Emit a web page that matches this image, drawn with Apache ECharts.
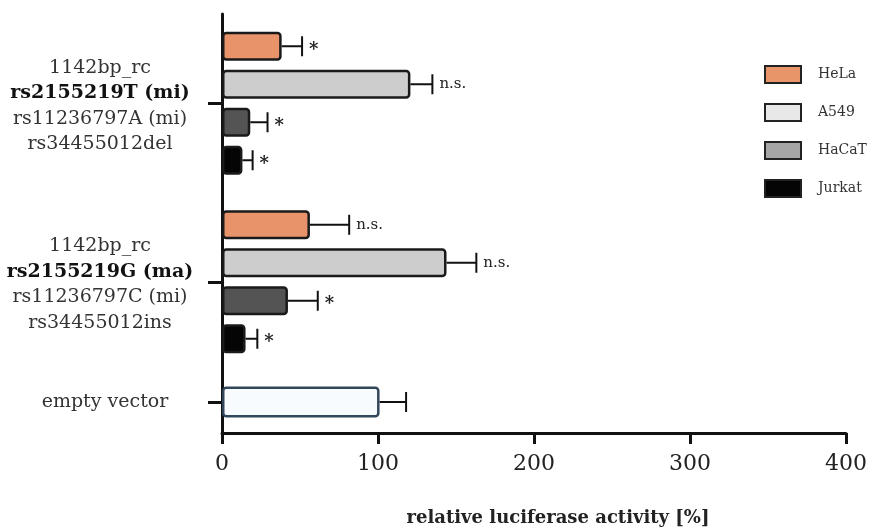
<!DOCTYPE html>
<html>
<head>
<meta charset="utf-8">
<style>
  html, body { margin: 0; padding: 0; background: #fff; }
  #chart { width: 870px; height: 531px; }
</style>
<script src="https://cdn.jsdelivr.net/npm/echarts@6/dist/echarts.min.js"></script>
</head>
<body>
<div id="chart"></div>
<script>
// Construct groups (each label is a stack of lines; line 2 is the highlighted SNP)
const groupLabels = [
  ['1142bp_rc', 'rs2155219T (mi)', 'rs11236797A (mi)', 'rs34455012del'],
  ['1142bp_rc', 'rs2155219G (ma)', 'rs11236797C (mi)', 'rs34455012ins']
];
const controlLabel = 'empty vector';

// Cell lines
const cellLines = ['HeLa', 'A549', 'HaCaT', 'Jurkat'];

// Relative luciferase activity [%] per cell line, one value per construct group
const helaValues   = [38, 56];
const a549Values   = [120, 143];
const hacatValues  = [18, 42];
const jurkatValues = [13, 15];

// Upper error (SD) per cell line
const helaErrors   = [13, 25];
const a549Errors   = [14, 19];
const hacatErrors  = [11, 19];
const jurkatErrors = [6.5, 7.5];

// Significance marks
const helaSig   = ['*', 'n.s.'];
const a549Sig   = ['n.s.', 'n.s.'];
const hacatSig  = ['*', '*'];
const jurkatSig = ['*', '*'];

// Empty vector control
const controlValue = [101];
const controlError = [17];

// Axis ticks
const xTicks = [0, 100, 200, 300, 400];

const values = [helaValues, a549Values, hacatValues, jurkatValues];
const errors = [helaErrors, a549Errors, hacatErrors, jurkatErrors];
const sigs   = [helaSig, a549Sig, hacatSig, jurkatSig];

const FONT = '"DejaVu Serif", serif';
const BAR_W = 29;
const BAR_GAP = 9;
const AXIS_COLOR = '#111';
const barColors    = ['#E8936A', '#CDCDCD', '#545454', '#050505'];
const legendColors = ['#E8956A', '#E8E8E8', '#A6A6A6', '#050505'];

const chart = echarts.init(document.getElementById('chart'), null, { renderer: 'canvas' });

const categories = groupLabels.map(lines => lines.join('\n'));

function groupFormatter(value) {
  return value.split('\n').map((s, i) => (i === 1 ? '{b|' + s + '}' : '{n|' + s + '}')).join('\n');
}

// error-bar items for the grouped grid: [mean, groupIndex, err, cellLineIndex]
const errData = [];
const errSig = [];
values.forEach((arr, k) => {
  arr.forEach((v, c) => {
    errData.push([v, c, errors[k][c], k]);
    errSig.push(sigs[k][c]);
  });
});

function makeErrorRenderer(sigList, nBars, pitch) {
  return function (params, api) {
    const mean = api.value(0), cat = api.value(1), err = api.value(2), k = api.value(3);
    const shift = (k - (nBars - 1) / 2) * pitch;
    const a = api.coord([mean, cat]);
    const b = api.coord([mean + err, cat]);
    const y = a[1] + shift;
    const children = [
      { type: 'line', shape: { x1: a[0], y1: y, x2: b[0], y2: y },
        style: { stroke: AXIS_COLOR, lineWidth: 2 } },
      { type: 'line', shape: { x1: b[0], y1: y - 10, x2: b[0], y2: y + 10 },
        style: { stroke: AXIS_COLOR, lineWidth: 2 } }
    ];
    const sig = sigList ? sigList[params.dataIndex] : '';
    if (sig) {
      const star = sig === '*';
      children.push({
        type: 'text', x: b[0] + 7, y: y + (star ? 4 : 0),
        style: {
          text: sig, fontFamily: FONT, fontSize: star ? 18 : 15,
          fontWeight: star ? 'bold' : 'normal',
          fill: '#222', align: 'left', verticalAlign: 'middle'
        }
      });
    }
    return { type: 'group', children };
  };
}

const barSeries = cellLines.map((name, k) => ({
  type: 'bar',
  name,
  xAxisIndex: 0,
  yAxisIndex: 0,
  data: values[k],
  barWidth: BAR_W,
  barGap: (BAR_GAP / BAR_W * 100).toFixed(1) + '%',
  itemStyle: { color: barColors[k], borderColor: '#1a1a1a', borderWidth: 2.5, borderRadius: 3 },
  emphasis: { disabled: true },
  z: 2
}));

const option = {
  backgroundColor: '#fff',
  animation: false,
  grid: [
    { left: 222, right: 20, top: 14, height: 357 },
    { left: 222, right: 20, top: 371, height: 62 }
  ],
  legend: {
    orient: 'vertical',
    left: 759,
    top: 60,
    itemWidth: 36,
    itemHeight: 17,
    itemGap: 19,
    icon: 'rect',
    selectedMode: false,
    data: cellLines.map((n, k) => ({
      name: n,
      itemStyle: { color: legendColors[k], borderColor: '#222', borderWidth: 2 }
    })),
    textStyle: { fontFamily: FONT, fontSize: 14, color: '#333', padding: [0, 0, 0, 12] }
  },
  xAxis: [
    { gridIndex: 0, type: 'value', min: xTicks[0], max: xTicks[xTicks.length - 1], show: false },
    {
      gridIndex: 1, type: 'value',
      min: xTicks[0], max: xTicks[xTicks.length - 1], interval: xTicks[1] - xTicks[0],
      axisLine: { show: true, lineStyle: { color: AXIS_COLOR, width: 3 } },
      axisTick: { show: true, length: 11, lineStyle: { color: AXIS_COLOR, width: 3 } },
      axisLabel: { fontFamily: FONT, fontSize: 22, color: '#222', margin: 20 },
      splitLine: { show: false },
      name: 'relative luciferase activity [%]',
      nameLocation: 'middle',
      nameGap: 76,
      nameTextStyle: { fontFamily: FONT, fontWeight: 'bold', fontSize: 18, color: '#222', padding: [0, 0, 0, 48] }
    }
  ],
  yAxis: [
    {
      gridIndex: 0, type: 'category', data: categories, inverse: true,
      axisLine: { show: true, lineStyle: { color: AXIS_COLOR, width: 3 } },
      axisTick: { show: true, alignWithLabel: true, length: 14, lineStyle: { color: AXIS_COLOR, width: 3 } },
      axisLabel: {
        margin: 122, align: 'center', formatter: groupFormatter, padding: [6, 0, 0, 0],
        rich: {
          n: { fontFamily: FONT, fontSize: 19, color: '#333', lineHeight: 25.5, align: 'center' },
          b: { fontFamily: FONT, fontSize: 19, fontWeight: 'bold', color: '#111', lineHeight: 25.5, align: 'center' }
        }
      },
      splitLine: { show: false }
    },
    {
      gridIndex: 1, type: 'category', data: [controlLabel], inverse: true,
      axisLine: { show: true, lineStyle: { color: AXIS_COLOR, width: 3 } },
      axisTick: { show: true, alignWithLabel: true, length: 14, lineStyle: { color: AXIS_COLOR, width: 3 } },
      axisLabel: { margin: 117, align: 'center', fontFamily: FONT, fontSize: 19, color: '#333' },
      splitLine: { show: false }
    }
  ],
  series: [
    ...barSeries,
    {
      type: 'bar',
      name: controlLabel,
      xAxisIndex: 1,
      yAxisIndex: 1,
      data: controlValue,
      barWidth: 31,
      itemStyle: { color: '#F8FBFE', borderColor: '#33475B', borderWidth: 2.5, borderRadius: 3 },
      emphasis: { disabled: true },
      z: 2
    },
    {
      type: 'custom',
      name: 'error',
      xAxisIndex: 0,
      yAxisIndex: 0,
      encode: { x: 0, y: 1 },
      data: errData,
      renderItem: makeErrorRenderer(errSig, cellLines.length, BAR_W + BAR_GAP),
      z: 3,
      silent: true
    },
    {
      type: 'custom',
      name: 'control error',
      xAxisIndex: 1,
      yAxisIndex: 1,
      encode: { x: 0, y: 1 },
      data: controlValue.map((v, i) => [v, i, controlError[i], 0]),
      renderItem: makeErrorRenderer(null, 1, 0),
      z: 3,
      silent: true
    }
  ]
};

chart.setOption(option);
</script>
</body>
</html>
